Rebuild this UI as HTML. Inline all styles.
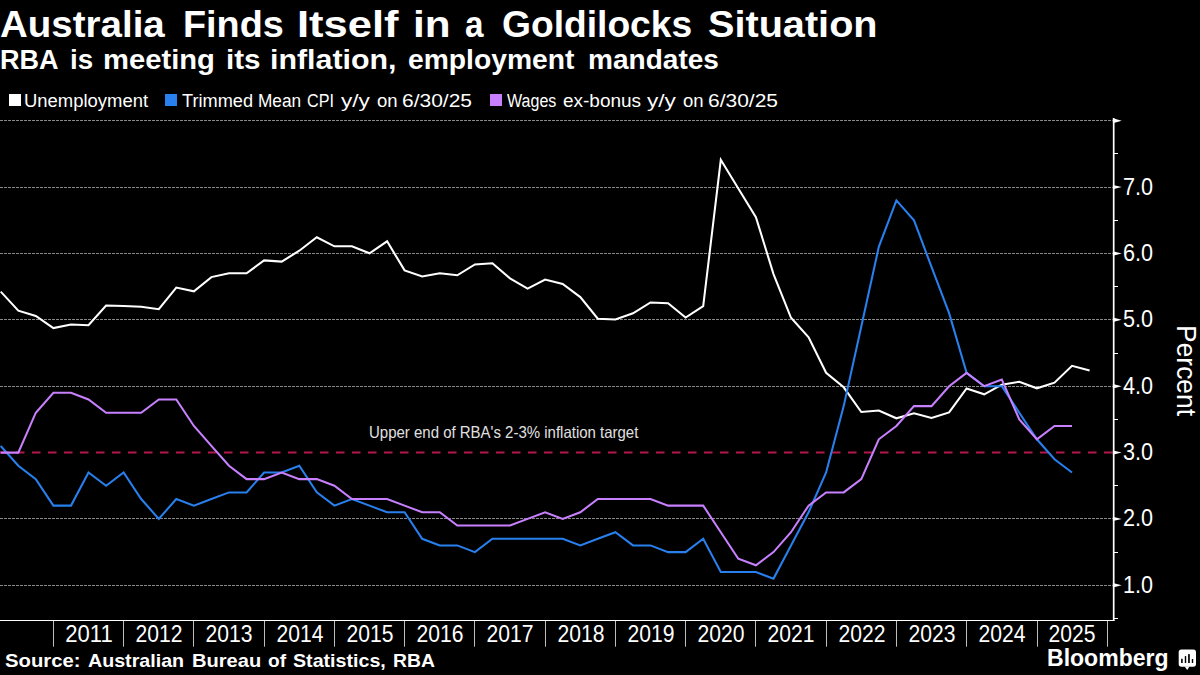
<!DOCTYPE html>
<html><head><meta charset="utf-8"><style>
*{margin:0;padding:0;box-sizing:border-box}
html,body{width:1200px;height:675px;background:#000;overflow:hidden}
body{position:relative;font-family:"Liberation Sans",sans-serif;color:#fff}
.t{position:absolute;white-space:nowrap;line-height:1}
#title{left:-0.4px;top:6.0px;font-size:36.5px;font-weight:bold;transform-origin:0 0;transform:scaleX(1.105)}
#sub{left:0px;top:45.5px;font-size:27.5px;font-weight:bold;transform-origin:0 0;transform:scaleX(1.074)}
.lg{position:absolute;top:94px;width:12px;height:12px}
.lt{position:absolute;top:91.9px;font-size:16.5px;white-space:nowrap;line-height:1;transform-origin:0 0}
.yl{position:absolute;left:1122.8px;font-size:24px;line-height:1;white-space:nowrap;transform-origin:0 0;transform:scaleX(0.9)}
.xl{position:absolute;top:622.1px;width:70px;text-align:center;font-size:24px;line-height:1}
#pct{position:absolute;left:1198.85px;top:325px;font-size:27px;line-height:1;white-space:nowrap;transform-origin:0 0;transform:rotate(90deg) scaleX(0.979)}
#ann{left:368.6px;top:424.0px;font-size:16.5px;color:#e0e0e0;transform-origin:0 0;transform:scaleX(0.908)}
#src{left:5.2px;top:652.3px;font-size:18.4px;font-weight:bold;transform-origin:0 0;transform:scaleX(1.099)}
#bb{left:1047.4px;top:646.4px;font-size:24.5px;font-weight:bold;transform-origin:0 0;transform:scaleX(0.94)}
svg{position:absolute;left:0;top:0}
.w{position:absolute;white-space:nowrap;line-height:1;transform-origin:0 0}
.g{stroke:#888;stroke-width:1;stroke-dasharray:3 1}
.ys{stroke:#bdbdbd;stroke-width:1}
</style></head><body>
<svg width="1200" height="675" viewBox="0 0 1200 675">
<line x1="0" y1="120.5" x2="1112.7" y2="120.5" class="g"/>
<line x1="0" y1="187.5" x2="1112.7" y2="187.5" class="g"/>
<line x1="0" y1="253.5" x2="1112.7" y2="253.5" class="g"/>
<line x1="0" y1="319.5" x2="1112.7" y2="319.5" class="g"/>
<line x1="0" y1="386.5" x2="1112.7" y2="386.5" class="g"/>
<line x1="0" y1="518.5" x2="1112.7" y2="518.5" class="g"/>
<line x1="0" y1="585.5" x2="1112.7" y2="585.5" class="g"/>

<line x1="0" y1="452.6" x2="1112.7" y2="452.6" stroke="#b3184a" stroke-width="2" stroke-dasharray="8.5 7.5"/>
<line x1="0" y1="620.5" x2="1114.5" y2="620.5" stroke="#fff" stroke-width="1.2"/>
<line x1="1113.7" y1="118" x2="1113.7" y2="621.1" stroke="#fff" stroke-width="1.7"/>
<path d="M1112.9,118.2 L1121.7,120.8 L1112.9,123.2Z" fill="#fff"/>
<path d="M1112.9,184.9 L1121.7,187.1 L1112.9,189.3Z" fill="#fff"/>
<path d="M1112.9,251.3 L1121.7,253.5 L1112.9,255.7Z" fill="#fff"/>
<path d="M1112.9,317.6 L1121.7,319.8 L1112.9,322.0Z" fill="#fff"/>
<path d="M1112.9,384.0 L1121.7,386.2 L1112.9,388.4Z" fill="#fff"/>
<path d="M1112.9,450.4 L1121.7,452.6 L1112.9,454.8Z" fill="#fff"/>
<path d="M1112.9,516.7 L1121.7,518.9 L1112.9,521.1Z" fill="#fff"/>
<path d="M1112.9,583.0 L1121.7,585.2 L1112.9,587.4Z" fill="#fff"/>
<line x1="1113.7" y1="153.5" x2="1118.0" y2="153.5" stroke="#fff" stroke-width="1"/>
<line x1="1113.7" y1="220.5" x2="1118.0" y2="220.5" stroke="#fff" stroke-width="1"/>
<line x1="1113.7" y1="286.5" x2="1118.0" y2="286.5" stroke="#fff" stroke-width="1"/>
<line x1="1113.7" y1="353.5" x2="1118.0" y2="353.5" stroke="#fff" stroke-width="1"/>
<line x1="1113.7" y1="419.5" x2="1118.0" y2="419.5" stroke="#fff" stroke-width="1"/>
<line x1="1113.7" y1="485.5" x2="1118.0" y2="485.5" stroke="#fff" stroke-width="1"/>
<line x1="1113.7" y1="552.5" x2="1118.0" y2="552.5" stroke="#fff" stroke-width="1"/>
<line x1="1113.7" y1="618.5" x2="1118.0" y2="618.5" stroke="#fff" stroke-width="1"/>

<line x1="53.5" y1="621" x2="53.5" y2="646.7" class="ys"/>
<line x1="123.5" y1="621" x2="123.5" y2="646.7" class="ys"/>
<line x1="193.5" y1="621" x2="193.5" y2="646.7" class="ys"/>
<line x1="264.5" y1="621" x2="264.5" y2="646.7" class="ys"/>
<line x1="334.5" y1="621" x2="334.5" y2="646.7" class="ys"/>
<line x1="404.5" y1="621" x2="404.5" y2="646.7" class="ys"/>
<line x1="474.5" y1="621" x2="474.5" y2="646.7" class="ys"/>
<line x1="545.5" y1="621" x2="545.5" y2="646.7" class="ys"/>
<line x1="615.5" y1="621" x2="615.5" y2="646.7" class="ys"/>
<line x1="685.5" y1="621" x2="685.5" y2="646.7" class="ys"/>
<line x1="755.5" y1="621" x2="755.5" y2="646.7" class="ys"/>
<line x1="826.5" y1="621" x2="826.5" y2="646.7" class="ys"/>
<line x1="896.5" y1="621" x2="896.5" y2="646.7" class="ys"/>
<line x1="966.5" y1="621" x2="966.5" y2="646.7" class="ys"/>
<line x1="1037.5" y1="621" x2="1037.5" y2="646.7" class="ys"/>
<line x1="1107.5" y1="621" x2="1107.5" y2="646.7" class="ys"/>

<polyline points="0.7,291.6 18.3,310.7 35.8,316.0 53.4,328.1 71.0,324.5 88.5,325.2 106.1,305.5 123.6,306.0 141.2,306.8 158.8,309.2 176.3,287.6 193.9,291.3 211.4,277.1 229.0,273.3 246.6,273.3 264.1,260.4 281.7,261.6 299.3,250.7 316.8,237.3 334.4,246.3 351.9,246.3 369.5,253.3 387.1,241.3 404.6,270.4 422.2,276.4 439.8,273.3 457.3,275.3 474.9,264.4 492.4,263.3 510.0,278.4 527.6,288.7 545.1,279.6 562.7,284.0 580.3,297.1 597.8,318.7 615.4,319.5 633.0,313.3 650.5,302.5 668.1,303.3 685.6,317.5 703.2,306.2 720.8,159.8 738.3,188.5 755.9,217.1 773.5,274.1 791.0,317.8 808.6,337.3 826.1,372.8 843.7,387.3 861.3,412.0 878.8,410.5 896.4,418.3 914.0,413.3 931.5,418.0 949.1,412.4 966.6,388.5 984.2,394.3 1001.8,384.7 1019.3,381.7 1036.9,388.3 1054.5,382.7 1072.0,365.8 1089.6,370.4" fill="none" stroke="#fff" stroke-width="2.05" stroke-linejoin="miter"/>
<polyline points="0.7,445.9 18.3,465.8 35.8,479.1 53.4,505.6 71.0,505.6 88.5,472.5 106.1,485.7 123.6,472.5 141.2,499.0 158.8,518.9 176.3,499.0 193.9,505.6 211.4,499.0 229.0,492.4 246.6,492.4 264.1,472.5 281.7,472.5 299.3,465.8 316.8,492.4 334.4,505.6 351.9,499.0 369.5,505.6 387.1,512.3 404.6,512.3 422.2,538.8 439.8,545.4 457.3,545.4 474.9,552.1 492.4,538.8 510.0,538.8 527.6,538.8 545.1,538.8 562.7,538.8 580.3,545.4 597.8,538.8 615.4,532.2 633.0,545.4 650.5,545.4 668.1,552.1 685.6,552.1 703.2,538.8 720.8,572.0 738.3,572.0 755.9,572.0 773.5,578.6 791.0,545.4 808.6,512.3 826.1,472.5 843.7,406.1 861.3,326.5 878.8,246.9 896.4,200.4 914.0,220.3 931.5,266.8 949.1,313.2 966.6,372.9 984.2,386.2 1001.8,386.2 1019.3,412.7 1036.9,439.3 1054.5,459.2 1072.0,472.5" fill="none" stroke="#2880ee" stroke-width="2.05" stroke-linejoin="miter"/>
<polyline points="0.7,452.6 18.3,452.6 35.8,412.7 53.4,392.8 71.0,392.8 88.5,399.5 106.1,412.7 123.6,412.7 141.2,412.7 158.8,399.5 176.3,399.5 193.9,426.0 211.4,445.9 229.0,465.8 246.6,479.1 264.1,479.1 281.7,472.5 299.3,479.1 316.8,479.1 334.4,485.7 351.9,499.0 369.5,499.0 387.1,499.0 404.6,505.6 422.2,512.3 439.8,512.3 457.3,525.5 474.9,525.5 492.4,525.5 510.0,525.5 527.6,518.9 545.1,512.3 562.7,518.9 580.3,512.3 597.8,499.0 615.4,499.0 633.0,499.0 650.5,499.0 668.1,505.6 685.6,505.6 703.2,505.6 720.8,532.2 738.3,558.7 755.9,565.3 773.5,552.1 791.0,532.2 808.6,505.6 826.1,492.4 843.7,492.4 861.3,479.1 878.8,439.3 896.4,426.0 914.0,406.1 931.5,406.1 949.1,386.2 966.6,372.9 984.2,386.2 1001.8,379.6 1019.3,419.4 1036.9,439.3 1054.5,426.0 1072.0,426.0" fill="none" stroke="#c880ff" stroke-width="2.05" stroke-linejoin="miter"/>
</svg>
<div class="w" style="left:-0.45px;top:7.00px;font-size:36.5px;font-weight:bold;transform:scaleX(1.0547);">Australia</div><div class="w" style="left:183.05px;top:7.00px;font-size:36.5px;font-weight:bold;transform:scaleX(1.0360);">Finds</div><div class="w" style="left:297.45px;top:7.00px;font-size:36.5px;font-weight:bold;transform:scaleX(1.1924);">Itself</div><div class="w" style="left:412.64px;top:7.00px;font-size:36.5px;font-weight:bold;transform:scaleX(1.1572);">in</div><div class="w" style="left:465.30px;top:7.00px;font-size:36.5px;font-weight:bold;transform:scaleX(0.9098);">a</div><div class="w" style="left:501.61px;top:7.00px;font-size:36.5px;font-weight:bold;transform:scaleX(1.0191);">Goldilocks</div><div class="w" style="left:708.21px;top:7.00px;font-size:36.5px;font-weight:bold;transform:scaleX(1.0861);">Situation</div>

<div class="w" style="left:0.11px;top:45.50px;font-size:27.5px;font-weight:bold;transform:scaleX(0.9838);">RBA</div><div class="w" style="left:70.06px;top:45.50px;font-size:27.5px;font-weight:bold;transform:scaleX(1.0101);">is</div><div class="w" style="left:102.96px;top:45.50px;font-size:27.5px;font-weight:bold;transform:scaleX(1.0614);">meeting</div><div class="w" style="left:225.53px;top:45.50px;font-size:27.5px;font-weight:bold;transform:scaleX(1.0772);">its</div><div class="w" style="left:269.87px;top:45.50px;font-size:27.5px;font-weight:bold;transform:scaleX(1.1044);">inflation,</div><div class="w" style="left:408.47px;top:45.50px;font-size:27.5px;font-weight:bold;transform:scaleX(1.0274);">employment</div><div class="w" style="left:587.84px;top:45.50px;font-size:27.5px;font-weight:bold;transform:scaleX(1.0199);">mandates</div>

<div class="lg" style="left:9px;background:#fff"></div>
<div class="w" style="left:23.52px;top:91.50px;font-size:18px;transform:scaleX(1.0249);">Unemployment</div>

<div class="lg" style="left:165px;background:#2880ee"></div>
<div class="w" style="left:181.94px;top:91.50px;font-size:18px;transform:scaleX(1.0093);">Trimmed</div><div class="w" style="left:257.62px;top:91.50px;font-size:18px;transform:scaleX(0.9581);">Mean</div><div class="w" style="left:307.49px;top:91.50px;font-size:18px;transform:scaleX(0.8969);">CPI</div><div class="w" style="left:341.30px;top:91.50px;font-size:18px;transform:scaleX(1.2555);">y/y</div><div class="w" style="left:376.56px;top:91.50px;font-size:18px;transform:scaleX(1.0286);">on</div><div class="w" style="left:402.25px;top:91.50px;font-size:18px;transform:scaleX(1.1660);">6/30/25</div>

<div class="lg" style="left:490px;background:#c880ff"></div>
<div class="w" style="left:506.54px;top:91.50px;font-size:18px;transform:scaleX(0.8911);">Wages</div><div class="w" style="left:562.54px;top:91.50px;font-size:18px;transform:scaleX(1.0547);">ex-bonus</div><div class="w" style="left:647.30px;top:91.50px;font-size:18px;transform:scaleX(1.2555);">y/y</div><div class="w" style="left:682.56px;top:91.50px;font-size:18px;transform:scaleX(1.0286);">on</div><div class="w" style="left:708.25px;top:91.50px;font-size:18px;transform:scaleX(1.1660);">6/30/25</div>

<div class="yl" style="top:174.6px">7.0</div>
<div class="yl" style="top:240.9px">6.0</div>
<div class="yl" style="top:307.3px">5.0</div>
<div class="yl" style="top:373.6px">4.0</div>
<div class="yl" style="top:440.0px">3.0</div>
<div class="yl" style="top:506.3px">2.0</div>
<div class="yl" style="top:572.7px">1.0</div>

<div id="pct">Percent</div>
<div class="xl" style="left:53.7px;transform:scaleX(0.92);transform-origin:35px 0">2011</div>
<div class="xl" style="left:124.0px;transform:scaleX(0.88);transform-origin:35px 0">2012</div>
<div class="xl" style="left:194.2px;transform:scaleX(0.88);transform-origin:35px 0">2013</div>
<div class="xl" style="left:264.5px;transform:scaleX(0.88);transform-origin:35px 0">2014</div>
<div class="xl" style="left:334.7px;transform:scaleX(0.88);transform-origin:35px 0">2015</div>
<div class="xl" style="left:405.0px;transform:scaleX(0.88);transform-origin:35px 0">2016</div>
<div class="xl" style="left:475.2px;transform:scaleX(0.88);transform-origin:35px 0">2017</div>
<div class="xl" style="left:545.5px;transform:scaleX(0.88);transform-origin:35px 0">2018</div>
<div class="xl" style="left:615.7px;transform:scaleX(0.88);transform-origin:35px 0">2019</div>
<div class="xl" style="left:686.0px;transform:scaleX(0.88);transform-origin:35px 0">2020</div>
<div class="xl" style="left:756.2px;transform:scaleX(0.88);transform-origin:35px 0">2021</div>
<div class="xl" style="left:826.5px;transform:scaleX(0.88);transform-origin:35px 0">2022</div>
<div class="xl" style="left:896.7px;transform:scaleX(0.88);transform-origin:35px 0">2023</div>
<div class="xl" style="left:967.0px;transform:scaleX(0.88);transform-origin:35px 0">2024</div>
<div class="xl" style="left:1037.2px;transform:scaleX(0.88);transform-origin:35px 0">2025</div>

<div class="t" id="ann">Upper end of RBA's 2-3% inflation target</div>
<div class="w" style="left:4.89px;top:652.90px;font-size:17.8px;font-weight:bold;transform:scaleX(1.1392);">Source:</div><div class="w" style="left:88.31px;top:652.90px;font-size:17.8px;font-weight:bold;transform:scaleX(1.1049);">Australian</div><div class="w" style="left:191.79px;top:652.90px;font-size:17.8px;font-weight:bold;transform:scaleX(1.1304);">Bureau</div><div class="w" style="left:267.64px;top:652.90px;font-size:17.8px;font-weight:bold;transform:scaleX(1.0742);">of</div><div class="w" style="left:292.71px;top:652.90px;font-size:17.8px;font-weight:bold;transform:scaleX(1.1042);">Statistics,</div><div class="w" style="left:392.74px;top:652.90px;font-size:17.8px;font-weight:bold;transform:scaleX(1.0883);">RBA</div>

<div class="t" id="bb">Bloomberg</div>
<svg width="1200" height="675" style="position:absolute;left:0;top:0"><rect x="1178.7" y="649.4" width="17.3" height="17.4" rx="2.7" fill="#fff"/><path d="M1184.6,666.5 L1189.4,666.5 L1187.3,670 Z" fill="#fff"/>
<rect x="1181.1" y="658.8" width="1.6" height="4.2" fill="#000"/><rect x="1184.8" y="656.1" width="1.4" height="6.9" fill="#000"/><rect x="1188.1" y="654.1" width="1.7" height="8.9" fill="#000"/><rect x="1191.8" y="659" width="1.4" height="4" fill="#000"/></svg>
</body></html>
